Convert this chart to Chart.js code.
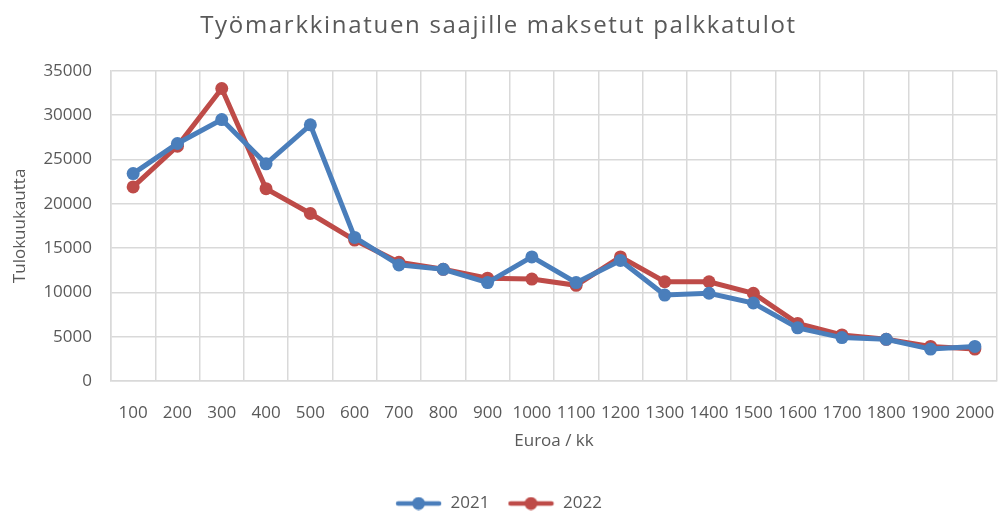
<!DOCTYPE html>
<html>
<head>
<meta charset="utf-8">
<script src="https://cdn.jsdelivr.net/npm/chart.js@4"></script>
<style>
  html, body { margin: 0; padding: 0; background: #fff; }
  #wrap { width: 999px; height: 512px; }
</style>
</head>
<body>
<div id="wrap"><canvas id="c" width="999" height="512"></canvas></div>
<script>
const categories = ["100","200","300","400","500","600","700","800","900","1000","1100","1200","1300","1400","1500","1600","1700","1800","1900","2000"];
const series2021 = [23400, 26800, 29500, 24500, 28900, 16200, 13100, 12600, 11100, 14000, 11100, 13600, 9700, 9900, 8800, 6000, 4900, 4700, 3600, 3900];
const series2022 = [21900, 26500, 33000, 21700, 18900, 15900, 13400, 12600, 11600, 11500, 10800, 14000, 11200, 11200, 9900, 6500, 5200, 4700, 3900, 3600];
const yTicks = [0, 5000, 10000, 15000, 20000, 25000, 30000, 35000];

const BLUE = '#4a7ebb';
const RED = '#be4b48';
const TXT = '#595959';
const FONT = "'Open Sans', 'Liberation Sans', sans-serif";

function legendIcon(color) {
  const cv = document.createElement('canvas');
  cv.width = 47; cv.height = 14;
  const g = cv.getContext('2d');
  g.strokeStyle = color; g.lineWidth = 4.5; g.lineCap = 'round';
  g.beginPath(); g.moveTo(3, 7); g.lineTo(44, 7); g.stroke();
  g.fillStyle = color;
  g.beginPath(); g.arc(23.5, 7, 6.5, 0, Math.PI * 2); g.fill();
  return cv;
}

// stretch the plot area to the right edge like the reference
const fixRight = {
  id: 'fixRight',
  afterLayout(chart) {
    const ca = chart.chartArea;
    const target = chart.width - 2;
    if (Math.abs(ca.right - target) > 0.5) {
      ca.right = target;
      ca.width = ca.right - ca.left;
      const xs = chart.scales.x;
      xs.right = target;
      xs.width = xs.right - xs.left;
      xs.configure();
      xs._labelItems = null;
      xs._gridLineItems = null;
      const ys = chart.scales.y;
      ys._gridLineItems = null;
    }
  }
};

const chart = new Chart(document.getElementById('c'), {
  type: 'line',
  data: {
    labels: categories,
    datasets: [
      { label: '2021', data: series2021, borderColor: BLUE, backgroundColor: BLUE,
        borderWidth: 5, pointRadius: 6.5, pointBorderWidth: 0, tension: 0 },
      { label: '2022', data: series2022, borderColor: RED, backgroundColor: RED,
        borderWidth: 5, pointRadius: 6.5, pointBorderWidth: 0, tension: 0 }
    ]
  },
  plugins: [fixRight],
  options: {
    responsive: false,
    animation: false,
    layout: { padding: { left: 0, right: 2, top: 0, bottom: -10 } },
    plugins: {
      tooltip: { enabled: false },
      title: {
        display: true,
        text: 'Työmarkkinatuen saajille maksetut palkkatulot',
        color: TXT,
        font: { family: FONT, size: 24, weight: 'normal', lineHeight: 1.2 },
        padding: { top: 12, bottom: 30 }
      },
      legend: {
        position: 'bottom',
        labels: {
          color: TXT,
          font: { family: FONT, size: 17 },
          usePointStyle: true,
          pointStyleWidth: 47,
          boxWidth: 47, boxHeight: 14,
          padding: 18,
          generateLabels: (chart) => chart.data.datasets.map((ds, i) => ({
            text: ds.label,
            fillStyle: ds.borderColor,
            strokeStyle: ds.borderColor,
            pointStyle: legendIcon(ds.borderColor),
            fontColor: TXT,
            datasetIndex: i,
            hidden: false,
            lineWidth: 0
          }))
        }
      }
    },
    scales: {
      x: {
        offset: true,
        grid: { color: '#d9d9d9', lineWidth: 1.5, offset: true, drawTicks: true, tickLength: 22, tickColor: 'rgba(0,0,0,0)' },
        border: { display: true, color: '#d9d9d9', width: 1.5 },
        ticks: { color: TXT, font: { family: FONT, size: 17 }, padding: 0, autoSkip: false, maxRotation: 0, minRotation: 0 },
        title: { display: true, text: 'Euroa / kk', color: TXT, font: { family: FONT, size: 17 }, padding: { top: 4, bottom: 26 } },
        afterFit: (s) => { s.height = 96; s.paddingLeft = 0; s.paddingRight = 0; }
      },
      y: {
        min: 0, max: 35000,
        afterBuildTicks: (s) => { s.ticks = yTicks.map(v => ({ value: v })); },
        grid: { color: '#d9d9d9', lineWidth: 1.5, drawTicks: false },
        border: { display: true, color: '#d9d9d9', width: 1.5 },
        ticks: { color: TXT, font: { family: FONT, size: 17 }, padding: 19, callback: (v) => String(v) },
        title: { display: true, text: 'Tulokuukautta', color: TXT, font: { family: FONT, size: 17 }, padding: { top: 10, bottom: 4 } },
        afterFit: (s) => { s.width = 111; }
      }
    }
  }
});

// widen the title's letter spacing to match the reference typeface
if (chart.titleBlock) {
  const tb = chart.titleBlock;
  const origDraw = tb.draw.bind(tb);
  tb.draw = function () {
    const ctx = this.ctx;
    const prev = ctx.letterSpacing;
    ctx.letterSpacing = '1.7px';
    origDraw();
    ctx.letterSpacing = prev || '0px';
  };
}
chart.update('none');
</script>
</body>
</html>
